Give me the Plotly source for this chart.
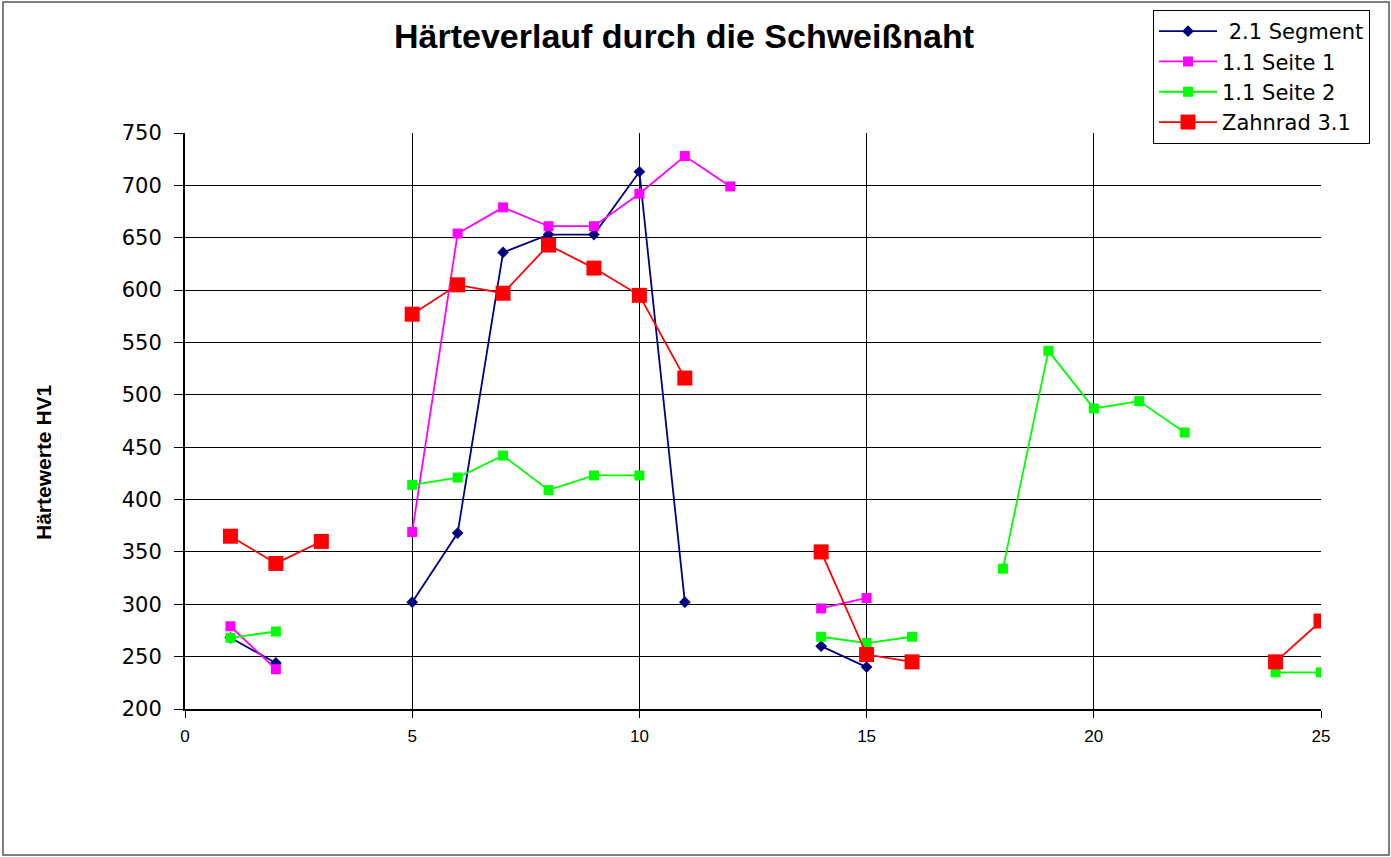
import plotly.graph_objects as go

positions = list(range(1, 26))

segment_21 = [268, 244, None, None, 302, 368, 636, 653, 653, 713, 302, None, None,
              260, 240, None, None, None, None, None, None, None, None, None, None]
seite1_11 = [279, 238, None, None, 369, 654, 679, 661, 661, 692, 728, 699, None,
             296, 306, None, None, None, None, None, None, None, None, None, None]
seite2_11 = [268, 274, None, None, 414, 421, 442, 409, 423, 423, None, None, None,
             269, 263, 269, None, 334, 542, 487, 494, 464, None, 235, 235]
zahnrad_31 = [365, 339, 360, None, 577, 605, 597, 643, 621, 595, 516, None, None,
              350, 252, 245, None, None, None, None, None, None, None, 245, 284]

x_ticks = [0, 5, 10, 15, 20, 25]
y_ticks = [200, 250, 300, 350, 400, 450, 500, 550, 600, 650, 700, 750]

FONT = "Arial, Liberation Sans, sans-serif"
WIDE = "DejaVu Sans, Arial, sans-serif"

W, H = 1391, 857

fig = go.Figure()
fig.add_trace(go.Scatter(x=positions, y=segment_21, name=" 2.1 Segment", mode="lines+markers",
                         connectgaps=False,
                         line=dict(color="#000080", width=1.8),
                         marker=dict(symbol="diamond", size=9, color="#000080")))
fig.add_trace(go.Scatter(x=positions, y=seite1_11, name="1.1 Seite 1", mode="lines+markers",
                         connectgaps=False,
                         line=dict(color="#FF00FF", width=1.8),
                         marker=dict(symbol="square", size=10, color="#FF00FF")))
fig.add_trace(go.Scatter(x=positions, y=seite2_11, name="1.1 Seite 2", mode="lines+markers",
                         connectgaps=False,
                         line=dict(color="#00FF00", width=1.8),
                         marker=dict(symbol="square", size=10, color="#00FF00")))
fig.add_trace(go.Scatter(x=positions, y=zahnrad_31, name="Zahnrad 3.1", mode="lines+markers",
                         connectgaps=False,
                         line=dict(color="#FF0000", width=1.8),
                         marker=dict(symbol="square", size=15, color="#FF0000")))

fig.update_layout(
    template="none",
    width=W, height=H,
    margin=dict(l=185, r=70, t=133, b=148, pad=0, autoexpand=False),
    paper_bgcolor="white", plot_bgcolor="white",
    font=dict(family=FONT, color="black"),
    title=dict(text="<b>Härteverlauf durch die Schweißnaht</b>",
               font=dict(family=FONT, size=34, color="black"),
               x=684 / W, xref="container", xanchor="center",
               y=1 - 36 / H, yref="container", yanchor="middle"),
    showlegend=True,
    legend=dict(x=1153 / W, y=1 - 10 / H, xref="container", yref="container",
                xanchor="left", yanchor="top",
                bgcolor="white", bordercolor="black", borderwidth=1,
                font=dict(family=WIDE, size=21, color="black"),
                itemwidth=58, tracegroupgap=0),
    xaxis=dict(range=[0, 25], tickmode="array", tickvals=x_ticks,
               showgrid=True, gridcolor="black", gridwidth=1,
               showline=True, linecolor="black", linewidth=2,
               ticks="outside", ticklen=7, tickcolor="black", tickwidth=1,
               tickfont=dict(family=FONT, size=17, color="black"),
               ticklabelstandoff=4,
               zeroline=False, automargin=False),
    yaxis=dict(range=[200, 750], tickmode="array", tickvals=y_ticks,
               showgrid=True, gridcolor="black", gridwidth=1,
               showline=True, linecolor="black", linewidth=2,
               ticks="outside", ticklen=9, tickcolor="black", tickwidth=1,
               tickfont=dict(family=WIDE, size=21, color="black"),
               ticklabelstandoff=8,
               zeroline=False, automargin=False),
)

# y-axis title (placed like the original, slightly below the plot centre)
fig.add_annotation(text="<b>Härtewerte HV1</b>", textangle=-90,
                   xref="paper", yref="paper",
                   x=(43 - 185) / 1136, y=(709 - 462) / 576,
                   xanchor="center", yanchor="middle", showarrow=False,
                   font=dict(family=FONT, size=21, color="black"))

# outer chart border
fig.add_shape(type="rect", xref="paper", yref="paper",
              x0=(3 - 185) / 1136, x1=(1389 - 185) / 1136,
              y0=(709 - 855) / 576, y1=(709 - 2) / 576,
              line=dict(color="#555555", width=1.5), fillcolor="rgba(0,0,0,0)", layer="below")

fig.write_html("out.html", config={"displayModeBar": False},
               post_script="document.body.style.margin='0px';")
